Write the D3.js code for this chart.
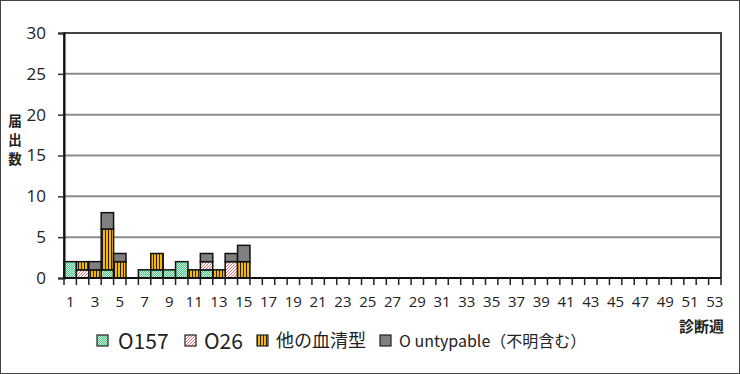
<!DOCTYPE html>
<html>
<head>
<meta charset="utf-8">
<script src="https://cdn.jsdelivr.net/npm/d3@7"></script>
<style>
  body { margin: 0; background: #fff; }
  svg { display: block; font-family: "Noto Sans CJK JP", "Noto Sans", sans-serif; }
</style>
</head>
<body>
<script>
// weeks 1..53 on the axis, data reported for weeks 1..15
var weeks = d3.range(1, 54);
var dataWeeks = [1, 2, 3, 4, 5, 6, 7, 8, 9, 10, 11, 12, 13, 14, 15];
var o157 =      [2, 0, 0, 1, 0, 0, 1, 1, 1, 2, 0, 1, 0, 0, 0];
var o26 =       [0, 1, 0, 0, 0, 0, 0, 0, 0, 0, 0, 1, 0, 2, 0];
var others =    [0, 1, 1, 5, 2, 0, 0, 2, 0, 0, 1, 0, 1, 0, 2];
var untypable = [0, 0, 1, 2, 1, 0, 0, 0, 0, 0, 0, 1, 0, 1, 2];
var seriesNames = ["O157", "O26", "他の血清型", "O untypable（不明含む）"];
var yTicks = [0, 5, 10, 15, 20, 25, 30];

var W = 740, H = 374;
var margin = { top: 33, right: 19, bottom: 96, left: 64 };
var width = W - margin.left - margin.right,
    height = H - margin.top - margin.bottom;

var svg = d3.select("body").append("svg").attr("width", W).attr("height", H);

// patterns
var defs = svg.append("defs");
var pg = defs.append("pattern").attr("id", "pGreen").attr("patternUnits", "userSpaceOnUse")
  .attr("width", 2).attr("height", 2);
pg.append("rect").attr("width", 2).attr("height", 2).attr("fill", "#c8f2dc");
pg.append("rect").attr("width", 1).attr("height", 1).attr("fill", "#52c488");
pg.append("rect").attr("x", 1).attr("y", 1).attr("width", 1).attr("height", 1).attr("fill", "#52c488");

var pp = defs.append("pattern").attr("id", "pPink").attr("patternUnits", "userSpaceOnUse")
  .attr("width", 3).attr("height", 3);
pp.append("rect").attr("width", 3).attr("height", 3).attr("fill", "#fff");
pp.append("path").attr("d", "M-1,1 L1,-1 M0,3 L3,0 M2,4 L4,2").attr("stroke", "#f07070").attr("stroke-width", 1);

var po = defs.append("pattern").attr("id", "pOrange").attr("patternUnits", "userSpaceOnUse")
  .attr("width", 3).attr("height", 3);
po.append("rect").attr("width", 3).attr("height", 3).attr("fill", "#f7b900");
po.append("rect").attr("x", 2).attr("width", 1).attr("height", 3).attr("fill", "#222");

var fills = ["url(#pGreen)", "url(#pPink)", "url(#pOrange)", "#808080"];

// outer frame
svg.append("rect").attr("x", 0.5).attr("y", 0.5).attr("width", W - 1).attr("height", H - 1)
  .attr("fill", "none").attr("stroke", "#444").attr("stroke-width", 1);

var g = svg.append("g").attr("transform", "translate(" + margin.left + "," + margin.top + ")");

var x = d3.scaleBand().domain(weeks).range([0, width]).padding(0);
var y = d3.scaleLinear().domain([0, 30]).range([height, 0]);

// gridlines
g.selectAll(".grid").data(yTicks.filter(function (d) { return d > 0 && d < 30; }))
  .enter().append("line")
  .attr("x1", 0).attr("x2", width)
  .attr("y1", function (d) { return y(d); }).attr("y2", function (d) { return y(d); })
  .attr("stroke", "#8c8c8c").attr("stroke-width", 2);

// plot frame (top, right)
g.append("path").attr("d", "M0," + height + "V0H" + width + "V" + height)
  .attr("fill", "none").attr("stroke", "#444").attr("stroke-width", 2);

// stacked bars
var rows = dataWeeks.map(function (w, i) {
  return { week: w, a: o157[i], b: o26[i], c: others[i], d: untypable[i] };
});
var stack = d3.stack().keys(["a", "b", "c", "d"]);
var layers = stack(rows);

g.selectAll(".layer").data(layers).enter().append("g")
  .attr("fill", function (d, i) { return fills[i]; })
  .selectAll("rect").data(function (d) { return d.filter(function (s) { return s[1] > s[0]; }); })
  .enter().append("rect")
  .attr("x", function (d) { return x(d.data.week); })
  .attr("y", function (d) { return y(d[1]); })
  .attr("width", x.bandwidth())
  .attr("height", function (d) { return y(d[0]) - y(d[1]); })
  .attr("stroke", "#111").attr("stroke-width", 1.5);

// y axis
var yAxis = g.append("g").call(d3.axisLeft(y).tickValues(yTicks).tickSize(6).tickPadding(12));
yAxis.select(".domain").attr("stroke", "#111").attr("stroke-width", 2);
yAxis.selectAll(".tick line").attr("stroke", "#333").attr("stroke-width", 1.5);
yAxis.selectAll("text").attr("font-size", 17).attr("fill", "#222")
  .attr("font-family", "'Open Sans', sans-serif");

// x axis: boundary ticks, labels on odd weeks
var xAxisG = g.append("g").attr("transform", "translate(0," + height + ")");
xAxisG.append("line").attr("x1", 0).attr("x2", width).attr("stroke", "#111").attr("stroke-width", 2);
xAxisG.selectAll(".bt").data(weeks.concat([54])).enter().append("line")
  .attr("x1", function (d) { return d <= 53 ? x(d) : width; })
  .attr("x2", function (d) { return d <= 53 ? x(d) : width; })
  .attr("y1", 0).attr("y2", 7).attr("stroke", "#222").attr("stroke-width", 1.5);
xAxisG.selectAll(".xl").data(weeks.filter(function (d) { return d % 2 === 1; })).enter().append("text")
  .attr("x", function (d) { return x(d) + x.bandwidth() / 2; })
  .attr("y", 29).attr("text-anchor", "middle")
  .attr("font-size", 15).attr("fill", "#222")
  .attr("font-family", "'Open Sans', sans-serif")
  .text(function (d) { return d; });

// axis titles (stacked vertically, one char per text)
["届", "出", "数"].forEach(function (c, i) {
  svg.append("text").attr("x", 15).attr("y", 121 + i * 19).attr("dy", "0.36em")
    .attr("text-anchor", "middle")
    .attr("font-size", 13.5).attr("font-weight", "bold").attr("fill", "#222").text(c);
});
svg.append("text").attr("x", 724).attr("y", 332).attr("text-anchor", "end")
  .attr("font-size", 15).attr("font-weight", "bold").attr("fill", "#222").text("診断週");

// legend
var legendItems = [
  { bx: 97, tx: 118, size: 21 },
  { bx: 185, tx: 204, size: 21 },
  { bx: 257, tx: 276, size: 18 },
  { bx: 380, tx: 399, size: 16 }
];
var lg = svg.append("g");
legendItems.forEach(function (it, i) {
  lg.append("rect").attr("x", it.bx).attr("y", 335).attr("width", 11).attr("height", 11)
    .attr("fill", fills[i]).attr("stroke", "#222").attr("stroke-width", 1.2);
  lg.append("text").attr("x", it.tx).attr("y", 341).attr("dy", "0.36em")
    .attr("font-size", it.size).attr("fill", "#222").text(seriesNames[i]);
});
</script>
</body>
</html>
